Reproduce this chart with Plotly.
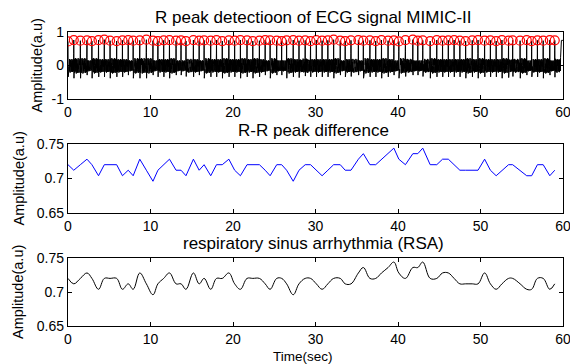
import numpy as np
import plotly.graph_objects as go

# ---- data ----
beat_times = [0.0, 0.7, 1.5, 2.3, 2.9, 3.7, 4.4, 5.1, 5.9, 6.6, 7.3, 7.9, 8.7, 9.5, 10.3,
              10.9, 11.6, 12.3, 13.1, 13.7, 14.3, 15.2, 15.9, 16.5, 17.3, 18.0, 18.7, 19.5,
              20.2, 20.9, 21.7, 22.4, 23.2, 23.9, 24.5, 25.3, 25.9, 26.5, 27.3, 28.0, 28.75,
              29.4, 30.1, 30.8, 31.5, 32.2, 33.0, 33.6, 34.3, 35.2, 35.8, 36.6, 37.3, 38.0,
              38.8, 39.5, 40.1, 40.9, 41.8, 42.4, 43.0, 43.9, 44.7, 45.4, 46.1, 46.8, 47.5,
              48.2, 49.0, 49.7, 50.5, 51.2, 51.9, 52.6, 53.4, 53.9, 54.8, 55.6, 56.2, 56.9,
              57.6, 58.4, 59.0]
rr_values = [0.72, 0.712, 0.72, 0.728, 0.72, 0.704, 0.72, 0.72, 0.72, 0.704, 0.712, 0.704,
             0.728, 0.712, 0.696, 0.712, 0.72, 0.728, 0.712, 0.712, 0.704, 0.728, 0.712, 0.72,
             0.704, 0.72, 0.72, 0.728, 0.712, 0.704, 0.72, 0.72, 0.72, 0.712, 0.704, 0.72,
             0.72, 0.712, 0.696, 0.712, 0.72, 0.72, 0.712, 0.704, 0.712, 0.72, 0.72, 0.712,
             0.712, 0.728, 0.736, 0.72, 0.72, 0.728, 0.736, 0.744, 0.728, 0.72, 0.736, 0.736,
             0.744, 0.72, 0.72, 0.728, 0.728, 0.72, 0.712, 0.712, 0.712, 0.712, 0.728, 0.712,
             0.704, 0.712, 0.72, 0.72, 0.712, 0.704, 0.704, 0.72, 0.72, 0.704, 0.712]
r_peak_amp = [0.72, 0.76, 0.74, 0.75, 0.73, 0.76, 0.77, 0.74, 0.73, 0.75, 0.76, 0.74, 0.75,
              0.77, 0.74, 0.73, 0.75, 0.76, 0.74, 0.75, 0.73, 0.76, 0.74, 0.75, 0.74, 0.76,
              0.73, 0.75, 0.74, 0.76, 0.75, 0.73, 0.74, 0.76, 0.75, 0.74, 0.73, 0.75, 0.76,
              0.74, 0.75, 0.73, 0.76, 0.74, 0.75, 0.77, 0.74, 0.73, 0.75, 0.76, 0.74, 0.75,
              0.73, 0.76, 0.74, 0.75, 0.72, 0.76, 0.77, 0.74, 0.75, 0.73, 0.76, 0.74, 0.75,
              0.76, 0.74, 0.73, 0.75, 0.76, 0.74, 0.75, 0.73, 0.76, 0.74, 0.75, 0.74, 0.76,
              0.73, 0.75, 0.74, 0.76, 0.75]
# one-beat waveform shape (phase 0 = R peak, phase 1 = next R peak)
beat_phase = [0.00, 0.03, 0.06, 0.10, 0.14, 0.18, 0.22, 0.26, 0.30, 0.34, 0.38, 0.42, 0.46,
              0.50, 0.54, 0.58, 0.62, 0.66, 0.70, 0.74, 0.78, 0.82, 0.86, 0.90, 0.94, 0.97, 1.00]
beat_shape = [None, -0.38, -0.10, 0.20, -0.22, 0.16, -0.20, 0.22, -0.18, 0.15, -0.24, 0.20,
              -0.16, 0.18, -0.22, 0.14, -0.20, 0.22, -0.18, 0.16, -0.22, 0.20, -0.16, 0.14,
              -0.20, 0.05, None]

x_ticks = [0, 10, 20, 30, 40, 50, 60]

# ---- build ECG trace from beats ----
fs = 125.0
ecg_t, ecg_v = [], []
ends = beat_times[1:] + [60.0]
for i, (t0, t1) in enumerate(zip(beat_times, ends)):
    a0 = r_peak_amp[i]
    a1 = r_peak_amp[i + 1] if i + 1 < len(r_peak_amp) else a0
    ys = [a0] + beat_shape[1:-1] + [a1]
    ph = np.array(beat_phase)
    period = (t1 - t0) if i + 1 < len(beat_times) else 0.72
    tt = np.arange(t0, t1, 1 / fs)
    p = (tt - t0) / period
    ecg_t.extend(tt.tolist())
    ecg_v.extend(np.interp(p, ph, ys).tolist())

fig = go.Figure()
fig.add_trace(go.Scatter(x=ecg_t, y=ecg_v, mode="lines", line=dict(color="black", width=1),
                         xaxis="x", yaxis="y", showlegend=False))
fig.add_trace(go.Scatter(x=beat_times, y=r_peak_amp, mode="markers",
                         marker=dict(symbol="circle-open", color="red", size=9, line=dict(width=1.2)),
                         xaxis="x", yaxis="y", showlegend=False))
fig.add_trace(go.Scatter(x=beat_times, y=rr_values, mode="lines", line=dict(color="#0000ff", width=1),
                         xaxis="x2", yaxis="y2", showlegend=False))
fig.add_trace(go.Scatter(x=beat_times, y=rr_values, mode="lines",
                         line=dict(color="black", width=1, shape="spline", smoothing=1.1),
                         xaxis="x3", yaxis="y3", showlegend=False))

W, H = 570, 364
xd = [68 / W, 563 / W]
def yd(top, bot):
    return [1 - bot / H, 1 - top / H]

font = dict(family="Liberation Sans, Arial, sans-serif", color="black", size=14)
ax_common = dict(showgrid=False, zeroline=False, showline=True, linecolor="black", linewidth=1.3,
                 mirror="ticks", ticks="inside", ticklen=4, tickcolor="black", tickwidth=1,
                 tickfont=dict(size=14, color="black"), automargin=False,
                 ticklabeloverflow="allow")

layout = dict(width=W, height=H, margin=dict(l=0, r=0, t=0, b=0, autoexpand=False),
              paper_bgcolor="white", plot_bgcolor="white", font=font, showlegend=False)
doms = [yd(32, 99), yd(144, 213), yd(258, 326)]
yranges = [[-1, 1], [0.65, 0.75], [0.65, 0.75]]
yticks = [([-1, 0, 1], ["-1", "0", "1"]), ([0.65, 0.7, 0.75], ["0.65", "0.7", "0.75"]),
          ([0.65, 0.7, 0.75], ["0.65", "0.7", "0.75"])]
for i in range(3):
    s = "" if i == 0 else str(i + 1)
    layout["xaxis" + s] = dict(ax_common, domain=xd, range=[0, 60], tickvals=x_ticks,
                               anchor="y" + s, ticklabelstandoff=0)
    layout["yaxis" + s] = dict(ax_common, domain=doms[i], range=yranges[i],
                               tickvals=yticks[i][0], ticktext=yticks[i][1], anchor="x" + s)
fig.update_layout(**layout)

titles = [("R peak detectioon of ECG signal MIMIC-II", 17),
          ("R-R peak difference", 130),
          ("respiratory sinus arrhythmia (RSA)", 244)]
for txt, yp in titles:
    fig.add_annotation(text=txt, x=313.5 / W, y=1 - yp / H, xref="paper", yref="paper",
                       showarrow=False, font=dict(size=17, color="black"),
                       xanchor="center", yanchor="middle")
for xc, top, bot in [(36, 32, 99), (18, 144, 213), (18, 258, 326)]:
    fig.add_annotation(text="Amplitude(a.u)", x=xc / W, y=1 - (top + bot) / 2 / H,
                       xref="paper", yref="paper", showarrow=False, textangle=-90,
                       font=dict(size=14.5, color="black"), xanchor="center", yanchor="middle")
fig.add_annotation(text="Time(sec)", x=303 / W, y=1 - 356 / H, xref="paper", yref="paper",
                   showarrow=False, font=dict(size=13.5, color="black"),
                   xanchor="center", yanchor="middle")

fig.write_html("out.html")
